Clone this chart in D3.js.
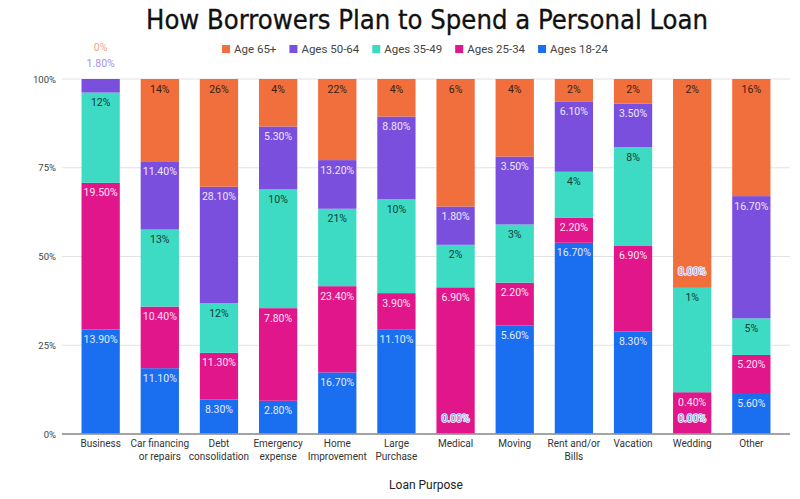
<!DOCTYPE html>
<html>
<head>
<meta charset="utf-8">
<script src="https://cdn.jsdelivr.net/npm/d3@7"></script>
<style>
  html, body { margin: 0; padding: 0; background: #fff; }
  svg { display: block; font-family: Roboto, "Noto Sans", sans-serif; }
</style>
</head>
<body>
<svg id="chart" width="800" height="499"></svg>
<script>
// ---- data ----
const categories = ["Business", "Car financing\nor repairs", "Debt\nconsolidation", "Emergency\nexpense",
  "Home\nImprovement", "Large\nPurchase", "Medical", "Moving", "Rent and/or\nBills", "Vacation", "Wedding", "Other"];
const ages1824 = [13.9, 11.1, 8.3, 2.8, 16.7, 11.1, 0.0, 5.6, 16.7, 8.3, 0.0, 5.6];
const ages2534 = [19.5, 10.4, 11.3, 7.8, 23.4, 3.9, 6.9, 2.2, 2.2, 6.9, 0.4, 5.2];
const ages3549 = [12, 13, 12, 10, 21, 10, 2, 3, 4, 8, 1, 5];
const ages5064 = [1.8, 11.4, 28.1, 5.3, 13.2, 8.8, 1.8, 3.5, 6.1, 3.5, 0.0, 16.7];
const age65 = [0, 14, 26, 4, 22, 4, 6, 4, 2, 2, 2, 16];
const yTicks = [0, 0.25, 0.5, 0.75, 1];

const series = [
  { key: "a1824", name: "Ages 18-24", values: ages1824, color: "#1a6ef0", text: "#e3ecff", decimals: 2 },
  { key: "a2534", name: "Ages 25-34", values: ages2534, color: "#e0168a", text: "#ffe3f2", decimals: 2 },
  { key: "a3549", name: "Ages 35-49", values: ages3549, color: "#3ddbc3", text: "#0e3b34", decimals: 0 },
  { key: "a5064", name: "Ages 50-64", values: ages5064, color: "#7b4fde", text: "#ece6ff", decimals: 2 },
  { key: "a65",   name: "Age 65+",    values: age65,    color: "#f06f3c", text: "#3a1d10", decimals: 0 }
];

const rows = categories.map((c, i) => {
  const r = { cat: c };
  series.forEach(s => r[s.key] = s.values[i]);
  return r;
});

const svg = d3.select("#chart");
const plot = { left: 62, right: 790, top: 79, bottom: 434 };

const x = d3.scaleBand().domain(categories).range([plot.left, plot.right])
  .paddingInner(0.353).paddingOuter(0.33);
const y = d3.scaleLinear().domain([0, 1]).range([plot.bottom, plot.top]);

const stack = d3.stack().keys(series.map(s => s.key)).offset(d3.stackOffsetExpand);
const stacked = stack(rows);

// title
svg.append("text")
  .attr("x", 427).attr("y", 29)
  .attr("text-anchor", "middle")
  .attr("font-family", "'DejaVu Sans Condensed', 'Liberation Sans Narrow', sans-serif")
  .attr("font-size", 26)
  .attr("textLength", 562)
  .attr("lengthAdjust", "spacingAndGlyphs")
  .attr("fill", "#111")
  .attr("stroke", "#111").attr("stroke-width", 0.3)
  .text("How Borrowers Plan to Spend a Personal Loan");

// legend
const legendOrder = series.slice().reverse();
const lg = svg.append("g").attr("font-size", 11.5).attr("fill", "#444");
let lx = 0;
legendOrder.forEach(s => {
  const g = lg.append("g").attr("transform", `translate(${lx},0)`);
  g.append("rect").attr("x", 0).attr("y", -4).attr("width", 8).attr("height", 8).attr("fill", s.color);
  const t = g.append("text").attr("x", 12).attr("y", 4).text(s.name);
  const w = t.node().getComputedTextLength();
  lx += 12 + w + 13;
});
const legendWidth = lx - 13;
lg.attr("transform", `translate(${415 - legendWidth / 2},49)`);

// grid + y axis labels
const grid = svg.append("g");
yTicks.forEach(t => {
  grid.append("line")
    .attr("x1", plot.left).attr("x2", plot.right)
    .attr("y1", y(t)).attr("y2", y(t))
    .attr("stroke", t === 0 ? "#9e9e9e" : "#e2e2e2")
    .attr("stroke-width", t === 0 ? 1.5 : 1);
  grid.append("text")
    .attr("x", 56).attr("y", y(t) + 3.5)
    .attr("text-anchor", "end")
    .attr("font-size", 9.5).attr("fill", "#444")
    .text(d3.format(".0%")(t));
});

// bars
const bars = svg.append("g");
stacked.forEach((layer, li) => {
  const s = series[li];
  bars.selectAll(null).data(layer).enter().append("rect")
    .attr("x", d => x(d.data.cat))
    .attr("width", x.bandwidth())
    .attr("y", d => y(d[1]))
    .attr("height", d => Math.max(0, y(d[0]) - y(d[1])))
    .attr("fill", s.color);
});
svg.append("line").attr("x1", plot.left).attr("x2", plot.right)
  .attr("y1", y(0)).attr("y2", y(0)).attr("stroke", "#9e9e9e").attr("stroke-width", 1.5);

// labels
const lab = svg.append("g").attr("font-size", 10.5).attr("text-anchor", "middle");
categories.forEach((c, ci) => {
  let lastOutsideY = Infinity;
  stacked.forEach((layer, li) => {
    const s = series[li];
    const d = layer[ci];
    const top = y(d[1]), bot = y(d[0]);
    const h = bot - top;
    const txt = s.values[ci].toFixed(s.decimals) + "%";
    const cx = x(c) + x.bandwidth() / 2;
    if (h >= 16) {
      lab.append("text").attr("x", cx).attr("y", top + 13.5)
        .attr("fill", s.text).text(txt);
    } else {
      let yy = top - 16;
      if (yy > lastOutsideY - 16) yy = lastOutsideY - 16;
      lastOutsideY = yy;
      lab.append("text").attr("x", cx).attr("y", yy + 3.5)
        .attr("fill", d3.interpolateRgb(s.color, "#fff")(0.35))
        .attr("stroke", "#fff").attr("stroke-width", 1.6)
        .attr("paint-order", "stroke").attr("stroke-linejoin", "round")
        .text(txt);
    }
  });
});

// x labels
const xl = svg.append("g").attr("font-size", 10).attr("fill", "#333").attr("text-anchor", "middle");
categories.forEach(c => {
  const cx = x(c) + x.bandwidth() / 2;
  const t = xl.append("text").attr("x", cx).attr("y", 447);
  c.split("\n").forEach((line, i) => {
    t.append("tspan").attr("x", cx).attr("dy", i === 0 ? 0 : 13).text(line);
  });
});

// axis title
svg.append("text").attr("x", 426).attr("y", 489)
  .attr("text-anchor", "middle").attr("font-size", 12).attr("fill", "#222")
  .text("Loan Purpose");
</script>
</body>
</html>
